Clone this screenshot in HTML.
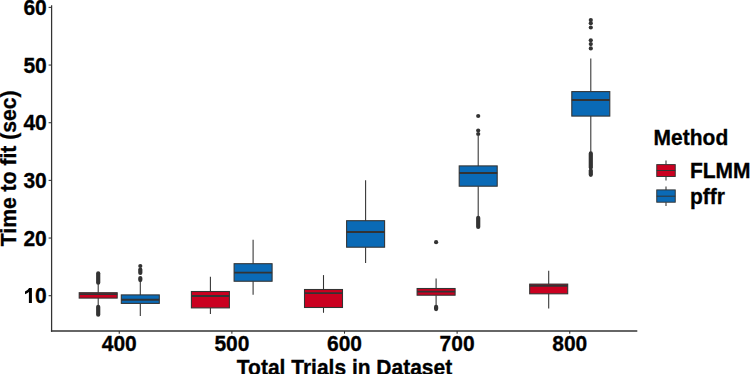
<!DOCTYPE html>
<html><head><meta charset="utf-8"><style>
html,body{margin:0;padding:0;background:#fff;}
svg{display:block;}
.t{font-family:"Liberation Sans",sans-serif;font-weight:bold;font-size:21px;fill:#000;stroke:#000;stroke-width:0.3px;}
</style></head><body>
<svg width="750" height="374" viewBox="0 0 750 374">
<rect width="750" height="374" fill="#fff"/>
<line x1="98.2" y1="284" x2="98.2" y2="292.7" stroke="#333333" stroke-width="1.07"/>
<line x1="98.2" y1="298.1" x2="98.2" y2="305" stroke="#333333" stroke-width="1.07"/>
<rect x="79.2" y="292.7" width="38" height="5.4" fill="#CA0020" stroke="#333333" stroke-width="1.07"/>
<line x1="79.2" y1="294.1" x2="117.2" y2="294.1" stroke="#333333" stroke-width="1.95"/>
<rect x="96.1" y="271.2" width="4.2" height="13.6" rx="2.1" ry="2.1" fill="#333333"/>
<rect x="96.1" y="304.7" width="4.2" height="12.1" rx="2.1" ry="2.1" fill="#333333"/>
<line x1="140.3" y1="281" x2="140.3" y2="294.9" stroke="#333333" stroke-width="1.07"/>
<line x1="140.3" y1="303.4" x2="140.3" y2="315.9" stroke="#333333" stroke-width="1.07"/>
<rect x="121.3" y="294.9" width="38" height="8.5" fill="#0A6AB6" stroke="#333333" stroke-width="1.07"/>
<line x1="121.3" y1="299.7" x2="159.3" y2="299.7" stroke="#333333" stroke-width="1.95"/>
<circle cx="140.3" cy="266" r="2.1" fill="#333333"/>
<rect x="138.2" y="267.5" width="4.2" height="7.5" rx="2.1" ry="2.1" fill="#333333"/>
<rect x="138.2" y="276" width="4.2" height="6.2" rx="2.1" ry="2.1" fill="#333333"/>
<line x1="210.4" y1="276.8" x2="210.4" y2="291.5" stroke="#333333" stroke-width="1.07"/>
<line x1="210.4" y1="307.9" x2="210.4" y2="313.9" stroke="#333333" stroke-width="1.07"/>
<rect x="191.4" y="291.5" width="38" height="16.4" fill="#CA0020" stroke="#333333" stroke-width="1.07"/>
<line x1="191.4" y1="295.9" x2="229.4" y2="295.9" stroke="#333333" stroke-width="1.95"/>
<line x1="253.1" y1="239.8" x2="253.1" y2="263.7" stroke="#333333" stroke-width="1.07"/>
<line x1="253.1" y1="281.25" x2="253.1" y2="294.8" stroke="#333333" stroke-width="1.07"/>
<rect x="234.1" y="263.7" width="38" height="17.55" fill="#0A6AB6" stroke="#333333" stroke-width="1.07"/>
<line x1="234.1" y1="272.6" x2="272.1" y2="272.6" stroke="#333333" stroke-width="1.95"/>
<line x1="323.5" y1="275.1" x2="323.5" y2="289.5" stroke="#333333" stroke-width="1.07"/>
<line x1="323.5" y1="307.5" x2="323.5" y2="312.8" stroke="#333333" stroke-width="1.07"/>
<rect x="304.5" y="289.5" width="38" height="18" fill="#CA0020" stroke="#333333" stroke-width="1.07"/>
<line x1="304.5" y1="293.1" x2="342.5" y2="293.1" stroke="#333333" stroke-width="1.95"/>
<line x1="365.6" y1="180.3" x2="365.6" y2="220.7" stroke="#333333" stroke-width="1.07"/>
<line x1="365.6" y1="247.2" x2="365.6" y2="263" stroke="#333333" stroke-width="1.07"/>
<rect x="346.6" y="220.7" width="38" height="26.5" fill="#0A6AB6" stroke="#333333" stroke-width="1.07"/>
<line x1="346.6" y1="232" x2="384.6" y2="232" stroke="#333333" stroke-width="1.95"/>
<line x1="436.1" y1="278.4" x2="436.1" y2="288.5" stroke="#333333" stroke-width="1.07"/>
<line x1="436.1" y1="295.2" x2="436.1" y2="305.5" stroke="#333333" stroke-width="1.07"/>
<rect x="417.1" y="288.5" width="38" height="6.7" fill="#CA0020" stroke="#333333" stroke-width="1.07"/>
<line x1="417.1" y1="291.6" x2="455.1" y2="291.6" stroke="#333333" stroke-width="1.95"/>
<circle cx="436.1" cy="242.2" r="2.1" fill="#333333"/>
<rect x="434" y="304.7" width="4.2" height="6.5" rx="2.1" ry="2.1" fill="#333333"/>
<line x1="478.2" y1="136" x2="478.2" y2="165.9" stroke="#333333" stroke-width="1.07"/>
<line x1="478.2" y1="186.2" x2="478.2" y2="216.5" stroke="#333333" stroke-width="1.07"/>
<rect x="459.2" y="165.9" width="38" height="20.3" fill="#0A6AB6" stroke="#333333" stroke-width="1.07"/>
<line x1="459.2" y1="173" x2="497.2" y2="173" stroke="#333333" stroke-width="1.95"/>
<circle cx="478.2" cy="116" r="2.1" fill="#333333"/>
<circle cx="478.2" cy="130.5" r="2.1" fill="#333333"/>
<circle cx="478.2" cy="134" r="2.1" fill="#333333"/>
<rect x="476.1" y="215.7" width="4.2" height="13.3" rx="2.1" ry="2.1" fill="#333333"/>
<line x1="548.7" y1="270.8" x2="548.7" y2="284.1" stroke="#333333" stroke-width="1.07"/>
<line x1="548.7" y1="293.8" x2="548.7" y2="308.4" stroke="#333333" stroke-width="1.07"/>
<rect x="529.7" y="284.1" width="38" height="9.7" fill="#CA0020" stroke="#333333" stroke-width="1.07"/>
<line x1="529.7" y1="285.8" x2="567.7" y2="285.8" stroke="#333333" stroke-width="1.95"/>
<line x1="590.8" y1="58.4" x2="590.8" y2="91.6" stroke="#333333" stroke-width="1.07"/>
<line x1="590.8" y1="116.1" x2="590.8" y2="152" stroke="#333333" stroke-width="1.07"/>
<rect x="571.8" y="91.6" width="38" height="24.5" fill="#0A6AB6" stroke="#333333" stroke-width="1.07"/>
<line x1="571.8" y1="100" x2="609.8" y2="100" stroke="#333333" stroke-width="1.95"/>
<circle cx="590.8" cy="20" r="2.1" fill="#333333"/>
<circle cx="590.8" cy="23.2" r="2.1" fill="#333333"/>
<circle cx="590.8" cy="27.5" r="2.1" fill="#333333"/>
<circle cx="590.8" cy="40.3" r="2.1" fill="#333333"/>
<circle cx="590.8" cy="44.1" r="2.1" fill="#333333"/>
<circle cx="590.8" cy="48.4" r="2.1" fill="#333333"/>
<rect x="588.7" y="151.3" width="4.2" height="18.4" rx="2.1" ry="2.1" fill="#333333"/>
<rect x="588.7" y="168.5" width="4.2" height="8.4" rx="2.1" ry="2.1" fill="#333333"/>
<line x1="51.6" y1="5.2" x2="51.6" y2="331.7" stroke="#333333" stroke-width="1.25"/>
<line x1="50.9" y1="331.0" x2="637.3" y2="331.0" stroke="#333333" stroke-width="1.4"/>
<line x1="48.6" y1="295.7" x2="51.6" y2="295.7" stroke="#333333" stroke-width="1.07"/>
<text transform="translate(46.8 303.3) scale(1.0 1.07)" text-anchor="end" class="t">0</text>
<path d="M31.9 288.1 L31.9 303.1 L28.9 303.1 L28.9 292.0 Q27.2 293.6 25.0 294.3 L25.0 291.6 Q27.6 290.6 29.1 288.1 Z" fill="#000"/>
<line x1="48.6" y1="238.04" x2="51.6" y2="238.04" stroke="#333333" stroke-width="1.07"/>
<text transform="translate(46.8 245.54) scale(1.0 1.07)" text-anchor="end" class="t">20</text>
<line x1="48.6" y1="180.38" x2="51.6" y2="180.38" stroke="#333333" stroke-width="1.07"/>
<text transform="translate(46.8 187.88) scale(1.0 1.07)" text-anchor="end" class="t">30</text>
<line x1="48.6" y1="122.72" x2="51.6" y2="122.72" stroke="#333333" stroke-width="1.07"/>
<text transform="translate(46.8 130.22) scale(1.0 1.07)" text-anchor="end" class="t">40</text>
<line x1="48.6" y1="65.06" x2="51.6" y2="65.06" stroke="#333333" stroke-width="1.07"/>
<text transform="translate(46.8 72.56) scale(1.0 1.07)" text-anchor="end" class="t">50</text>
<line x1="48.6" y1="7.4" x2="51.6" y2="7.4" stroke="#333333" stroke-width="1.07"/>
<text transform="translate(46.8 14.9) scale(1.0 1.07)" text-anchor="end" class="t">60</text>
<line x1="119.25" y1="331.0" x2="119.25" y2="333.7" stroke="#333333" stroke-width="1.07"/>
<text transform="translate(119.25 350.6) scale(1.0 1.07)" text-anchor="middle" class="t">400</text>
<line x1="231.88" y1="331.0" x2="231.88" y2="333.7" stroke="#333333" stroke-width="1.07"/>
<text transform="translate(231.88 350.6) scale(1.0 1.07)" text-anchor="middle" class="t">500</text>
<line x1="344.5" y1="331.0" x2="344.5" y2="333.7" stroke="#333333" stroke-width="1.07"/>
<text transform="translate(344.5 350.6) scale(1.0 1.07)" text-anchor="middle" class="t">600</text>
<line x1="457.12" y1="331.0" x2="457.12" y2="333.7" stroke="#333333" stroke-width="1.07"/>
<text transform="translate(457.12 350.6) scale(1.0 1.07)" text-anchor="middle" class="t">700</text>
<line x1="569.75" y1="331.0" x2="569.75" y2="333.7" stroke="#333333" stroke-width="1.07"/>
<text transform="translate(569.75 350.6) scale(1.0 1.07)" text-anchor="middle" class="t">800</text>
<text transform="translate(344.5 374.5) scale(1.0 1.07)" text-anchor="middle" class="t">Total Trials in Dataset</text>
<text transform="translate(16.1 168.3) rotate(-90) scale(1.008 1.07)" text-anchor="middle" class="t">Time to fit (sec)</text>
<text transform="translate(653.6 144.6) scale(1.0 1.07)" class="t">Method</text>
<line x1="666" y1="160.6" x2="666" y2="164.6" stroke="#333333" stroke-width="1.07"/>
<line x1="666" y1="176.5" x2="666" y2="180.6" stroke="#333333" stroke-width="1.07"/>
<rect x="656.75" y="164.6" width="18.5" height="11.9" fill="#CA0020" stroke="#333333" stroke-width="0.95"/>
<line x1="656.75" y1="170.5" x2="675.25" y2="170.5" stroke="#333333" stroke-width="1.0"/>
<text transform="translate(689.9 178.2) scale(1.0 1.07)" class="t">FLMM</text>
<line x1="666" y1="186.4" x2="666" y2="189.9" stroke="#333333" stroke-width="1.07"/>
<line x1="666" y1="202.2" x2="666" y2="206.1" stroke="#333333" stroke-width="1.07"/>
<rect x="656.75" y="189.9" width="18.5" height="12.3" fill="#0A6AB6" stroke="#333333" stroke-width="0.95"/>
<line x1="656.75" y1="196.2" x2="675.25" y2="196.2" stroke="#333333" stroke-width="1.0"/>
<text transform="translate(689.9 203.8) scale(1.0 1.07)" class="t">pffr</text>
</svg>
</body></html>
